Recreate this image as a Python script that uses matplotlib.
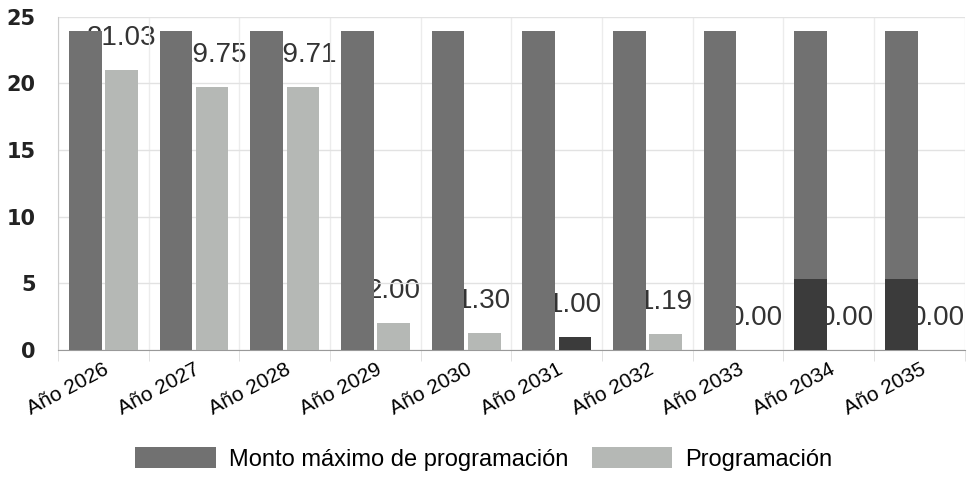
import matplotlib.pyplot as plt
import numpy as np

anios = ['Año 2026', 'Año 2027', 'Año 2028', 'Año 2029', 'Año 2030',
         'Año 2031', 'Año 2032', 'Año 2033', 'Año 2034', 'Año 2035']
monto_maximo = [23.9, 23.9, 23.9, 23.9, 23.9, 23.9, 23.9, 23.9, 23.9, 23.9]
programacion = [21.03, 19.75, 19.71, 2.00, 1.30, 1.00, 1.19, 0.00, 0.00, 0.00]
# darker lower parts visible on the scan
resaltado = [0, 0, 0, 0, 0, 0, 0, 0, 5.3, 5.3]

c_max = '#717171'
c_prog = '#b5b8b5'
c_dark = '#3b3b3b'

fig = plt.figure(figsize=(9.73, 4.8), dpi=100)
ax = fig.add_axes([0.0596, 0.271, 0.932, 0.694])

x = np.arange(len(anios))
w = 0.36
off = 0.2

ax.bar(x - off, monto_maximo, w, color=c_max, zorder=3, label='Monto máximo de programación')
ax.bar(x - off, resaltado, w, color=c_dark, zorder=4)
prog_colors = [c_dark if a == 'Año 2031' else c_prog for a in anios]
ax.bar(x + off, programacion, w, color=prog_colors, zorder=3, label='Programación')

# value labels sit behind the bars
for xi, v in zip(x, programacion):
    ax.annotate(f'{v:.2f}', (xi + off, v), xytext=(0, 23), textcoords='offset points',
                ha='center', va='center', fontsize=20, color='#333333',
                family='Liberation Sans', zorder=1)

ax.set_xlim(-0.5, len(anios) - 0.5)
ax.set_ylim(0, 25)
ax.set_yticks([0, 5, 10, 15, 20, 25])
ax.set_xticks(x)
ax.set_xticks(np.arange(-0.5, len(anios)), minor=True)
ax.set_xticklabels(anios, rotation=28, ha='right', rotation_mode='anchor',
                   fontsize=15, family='Liberation Sans')
ax.tick_params(axis='x', which='major', length=0, pad=7)
ax.tick_params(axis='x', which='minor', length=8, color='#dddddd')
ax.tick_params(axis='y', length=0, pad=16, labelsize=15)
for t in ax.get_yticklabels():
    t.set_fontweight('bold')
    t.set_color('#222222')

ax.grid(axis='y', color='#e2e2e2', lw=1, zorder=0)
ax.grid(axis='x', which='minor', color='#ececec', lw=1, zorder=0)
for s in ['top', 'right']:
    ax.spines[s].set_visible(False)
ax.spines['left'].set_color('#cccccc')
ax.spines['bottom'].set_color('#999999')

fig.legend(loc='center', bbox_to_anchor=(0.497, 0.044), ncol=2, frameon=False,
           prop={'family': 'Liberation Sans', 'size': 17},
           handlelength=3.4, handleheight=0.95, handletextpad=0.55, columnspacing=1.0)

fig.savefig('out.png', dpi=100)
